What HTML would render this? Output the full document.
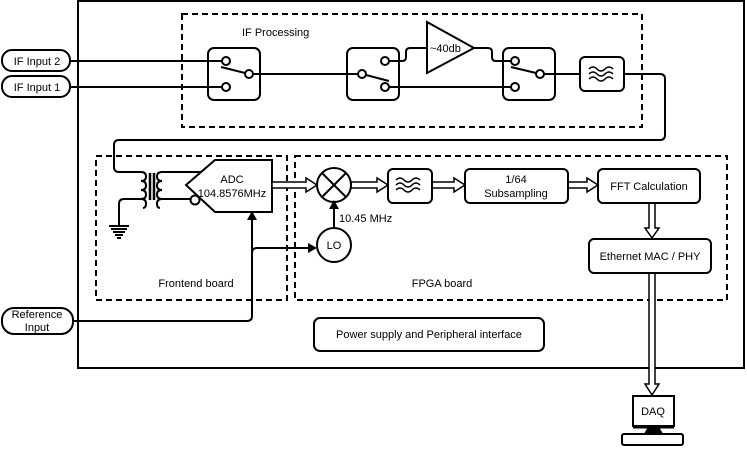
<!DOCTYPE html>
<html><head><style>
body{margin:0;background:#fff}
svg{display:block}
text{font-family:"Liberation Sans",sans-serif;font-size:11px;fill:#000}
</style></head><body>
<svg width="747" height="449" viewBox="0 0 747 449" xmlns="http://www.w3.org/2000/svg">
<g fill="none" stroke="#000" stroke-width="2">
<rect x="78" y="1" width="666" height="367"/>
<g stroke-dasharray="6,4">
<rect x="182" y="14" width="460" height="113"/>
<rect x="96" y="156" width="191" height="144"/>
<rect x="295" y="156" width="432" height="144"/>
</g>
<rect x="2" y="50" width="68" height="21" rx="10"/>
<rect x="2" y="76" width="68" height="21" rx="10"/>
<rect x="2" y="308" width="71" height="26" rx="12"/>
<path d="M70 61H222M70 87H222"/>
<rect x="208" y="48" width="52" height="52" rx="6"/>
<circle cx="226" cy="61" r="4" fill="#fff"/><circle cx="226" cy="87" r="4" fill="#fff"/><circle cx="249" cy="74" r="4" fill="#fff"/>
<path d="M221 67L245 73"/>
<path d="M253 74H358"/>
<rect x="347" y="48" width="52" height="52" rx="6"/>
<circle cx="362" cy="74" r="4" fill="#fff"/><circle cx="385" cy="61" r="4" fill="#fff"/><circle cx="385" cy="87" r="4" fill="#fff"/>
<path d="M366 75L389 81"/>
<path d="M389 61H402Q406 61 406 57V52Q406 48 410 48H427"/>
<path d="M427 22L474 48L427 73Z"/>
<path d="M474 48H488Q492 48 492 52V57Q492 61 496 61H511"/>
<path d="M389 87H511"/>
<rect x="503" y="48" width="52" height="52" rx="6"/>
<circle cx="515" cy="61" r="4" fill="#fff"/><circle cx="515" cy="87" r="4" fill="#fff"/><circle cx="540" cy="74" r="4" fill="#fff"/>
<path d="M511 67L536 73"/>
<path d="M544 74H580"/>
<rect x="580" y="57" width="44" height="34" rx="5"/>
<g stroke-width="1.5"><path d="M589 69q4-4 8 0t8 0t8 0M589 74q4-4 8 0t8 0t8 0M589 79q4-4 8 0t8 0t8 0"/></g>
<path d="M624 74H660Q665 74 665 79V135Q665 140 660 140H119Q114 140 114 145V167Q114 172 119 172H141"/>
<path d="M141 172q5 0 5 4.5t-5 4.5q5 0 5 4.5t-5 4.5q5 0 5 4.5t-5 4.5q5 0 5 4.5t-3 4.5"/>
<path d="M143 199H124Q119 199 119 204V226"/>
<path d="M150 173V200M154 173V200" stroke-width="2.5"/>
<path d="M162 172q-5 0 -5 4.5t5 4.5q-5 0 -5 4.5t5 4.5q-5 0 -5 4.5t5 4.5q-5 0 -5 4.5t3 4.5"/>
<path d="M162 172H201M162 199H190"/>
<path d="M109 226H129M111 229H127M113 232H125M115 235H123M117 238H121" stroke-width="2"/>
<path d="M186 185L215 160H272V212H215Z" fill="#fff"/>
<circle cx="195" cy="200" r="4.5" fill="#fff"/>
<g stroke-width="1.5" fill="#fff">
<path d="M272 182H306V178L317 185L306 192V188H272Z"/>
<path d="M351 182H377V178L388 185L377 192V188H351Z"/>
<path d="M432 182H454V178L465 185L454 192V188H432Z"/>
<path d="M568 182H587V178L598 185L587 192V188H568Z"/>
<path d="M649 203V228H645L652 238L659 228H655V203Z"/>
<path d="M649 273V384H645L652 395L659 384H655V273Z"/>
</g>
<circle cx="334" cy="185" r="17"/>
<path d="M322 173L346 197M346 173L322 197"/>
<rect x="388" y="169" width="44" height="34" rx="5"/>
<g stroke-width="1.5"><path d="M396 180q4-4 8 0t8 0t8 0M396 185q4-4 8 0t8 0t8 0M396 190q4-4 8 0t8 0t8 0"/></g>
<rect x="465" y="169" width="103" height="34" rx="5"/>
<rect x="598" y="169" width="102" height="34" rx="5"/>
<rect x="589" y="239" width="122" height="34" rx="5"/>
<circle cx="334" cy="245" r="17"/>
<path d="M334 228V206"/>
<path d="M73 321H247Q252 321 252 316V214"/>
<path d="M252 253Q252 248 257 248H308"/>
<rect x="314" y="318" width="230" height="33" rx="6"/>
<rect x="633" y="396" width="41" height="30"/>
<path d="M633 427H674" stroke-width="3"/>
<path d="M648 428L645 433H662L659 428Z" fill="#000" stroke-width="1"/>
<rect x="622" y="434" width="61" height="11" rx="2"/>
</g>
<g fill="#000">
<path d="M334 200L329 209H339Z"/>
<path d="M252 211L247 220H257Z"/>
<path d="M317 248L308 243V253Z"/>
</g>
<text x="37" y="65" text-anchor="middle">IF Input 2</text>
<text x="37" y="91" text-anchor="middle">IF Input 1</text>
<text x="37" y="318" text-anchor="middle">Reference</text>
<text x="37" y="331" text-anchor="middle">Input</text>
<text x="242" y="36">IF Processing</text>
<text x="430" y="52">~40db</text>
<text x="232" y="183" text-anchor="middle">ADC</text>
<text x="232" y="197" text-anchor="middle">104.8576MHz</text>
<text x="339" y="222">10.45 MHz</text>
<text x="334" y="249" text-anchor="middle">LO</text>
<text x="196" y="287" text-anchor="middle">Frontend board</text>
<text x="442" y="287" text-anchor="middle">FPGA board</text>
<text x="516" y="183" text-anchor="middle">1/64</text>
<text x="516" y="197" text-anchor="middle">Subsampling</text>
<text x="649" y="190" text-anchor="middle">FFT Calculation</text>
<text x="650" y="260" text-anchor="middle">Ethernet MAC / PHY</text>
<text x="429" y="338" text-anchor="middle">Power supply and Peripheral interface</text>
<text x="653" y="415" text-anchor="middle">DAQ</text>
</svg>
</body></html>
